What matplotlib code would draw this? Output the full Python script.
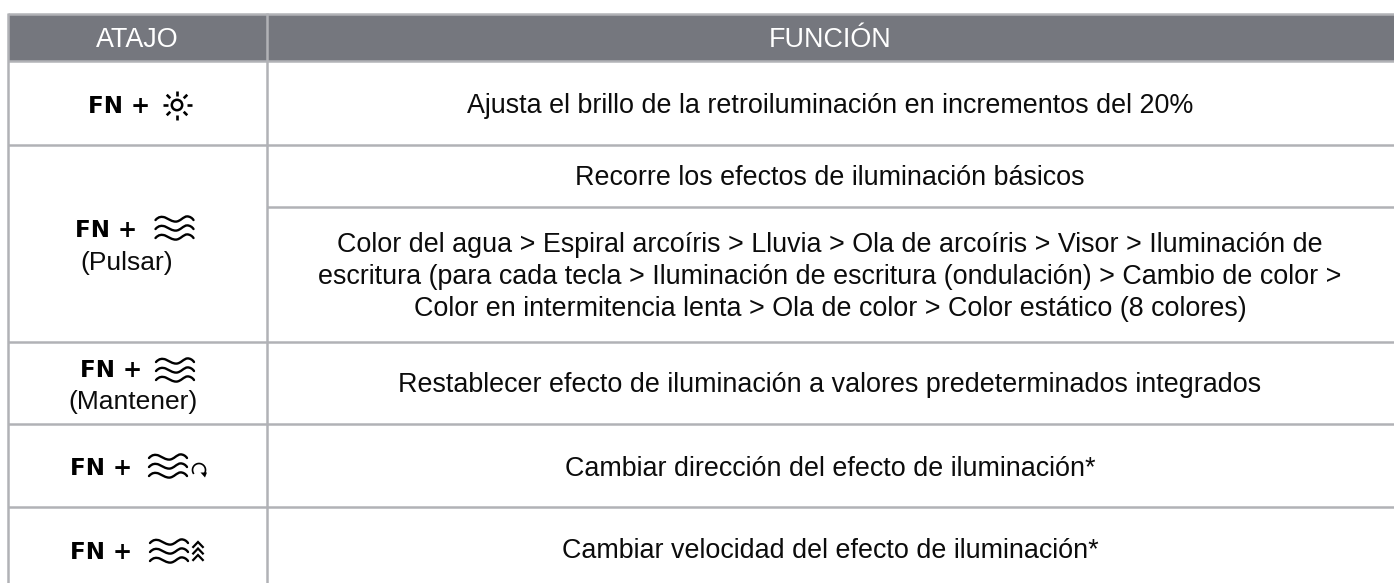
import numpy as np
import matplotlib
matplotlib.use('Agg')
import matplotlib.pyplot as plt
from matplotlib.path import Path
from matplotlib.patches import PathPatch, Circle, Rectangle

# table text
headers = ['ATAJO', 'FUNCIÓN']
shortcut_key = 'FN +'
shortcut_notes = ['', '(Pulsar)', '(Mantener)', '', '']
function_texts = [
    'Ajusta el brillo de la retroiluminación en incrementos del 20%',
    'Recorre los efectos de iluminación básicos',
    'Color del agua > Espiral arcoíris > Lluvia > Ola de arcoíris > Visor > Iluminación de',
    'escritura (para cada tecla > Iluminación de escritura (ondulación) > Cambio de color >',
    'Color en intermitencia lenta > Ola de color > Color estático (8 colores)',
    'Restablecer efecto de iluminación a valores predeterminados integrados',
    'Cambiar dirección del efecto de iluminación*',
    'Cambiar velocidad del efecto de iluminación*',
]

# layout in pixels
W, H = 1394, 583
LINE = '#b1b2b6'
HEAD = '#75777e'
INK = '#0c0c0c'
x_left, x_sep = 7.5, 267
y_top, y_head = 14, 61
row_lines = [145, 342, 424, 507]
inner_line = 207
col1_c, col2_c = 137, 830

plt.rcParams['font.family'] = ['Liberation Sans', 'DejaVu Sans']
fig = plt.figure(figsize=(W / 100, H / 100), dpi=100)
ax = fig.add_axes([0, 0, 1, 1])
ax.set_xlim(0, W)
ax.set_ylim(H, 0)
ax.axis('off')

lw = 1.8

# header band and grid
ax.add_patch(Rectangle((x_left, y_top), W - x_left, y_head - y_top, fc=HEAD, ec='none'))
ax.plot([x_left, W], [y_top, y_top], color=LINE, lw=lw, solid_capstyle='butt')
ax.plot([x_left, W], [y_head, y_head], color=LINE, lw=lw, solid_capstyle='butt')
for y in row_lines:
    ax.plot([x_left, W], [y, y], color=LINE, lw=lw, solid_capstyle='butt')
ax.plot([x_sep, W], [inner_line, inner_line], color=LINE, lw=lw, solid_capstyle='butt')
ax.plot([x_left, x_left], [y_top - 1, H], color=LINE, lw=lw, solid_capstyle='butt')
ax.plot([x_sep, x_sep], [y_top - 1, H], color=LINE, lw=lw, solid_capstyle='butt')

FS = 19.4

for cx, label in zip([col1_c, col2_c], headers):
    ax.text(cx, 47, label, color='white', fontsize=FS, ha='center', va='baseline')

# right column
func_base = [113, 185, 252, 284, 316, 392, 476, 558]
for y, txt in zip(func_base, function_texts):
    ax.text(col2_c, y, txt, color=INK, fontsize=FS, ha='center', va='baseline')


def wave(x0, y, width=38):
    # one wavy stroke of the lighting icon, built from bezier segments
    a = 2.6
    s = width / 6
    verts = [(x0, y + a * 0.4),
             (x0 + s * 0.5, y - a), (x0 + s * 1.0, y - a), (x0 + s * 1.5, y - a * 0.6),
             (x0 + s * 2.2, y + a * 0.2), (x0 + s * 2.6, y + a), (x0 + s * 3.2, y + a),
             (x0 + s * 3.9, y + a), (x0 + s * 4.4, y - a), (x0 + s * 5.0, y - a),
             (x0 + s * 5.4, y - a), (x0 + s * 5.8, y - a * 0.4), (x0 + width, y + a * 0.4)]
    codes = [Path.MOVETO] + [Path.CURVE4] * 12
    ax.add_patch(PathPatch(Path(verts, codes), fc='none', ec='black', lw=1.7, capstyle='round'))


def waves(x0, ys):
    for y in ys:
        wave(x0, y)


def sun(cx, cy):
    ax.add_patch(Circle((cx, cy), 5.2, fc='none', ec='black', lw=1.8))
    for ang in range(0, 360, 45):
        c, s = np.cos(np.radians(ang)), np.sin(np.radians(ang))
        ax.plot([cx + 9.5 * c, cx + 14.5 * c], [cy + 9.5 * s, cy + 14.5 * s],
                color='black', lw=1.9, solid_capstyle='butt')


def loop_arrow(cx, cy):
    th = np.radians(np.linspace(-30, 210, 40))
    ax.plot(cx + 6.5 * np.cos(th), cy - 6.5 * np.sin(th), color='black', lw=1.2)
    ax.add_patch(plt.Polygon([(cx + 1.5, cy + 2.5), (cx + 8, cy + 2.5), (cx + 6, cy + 7.5)],
                             fc='black', ec='none'))


def chevrons(cx, tips):
    for t in tips:
        ax.plot([cx - 4.8, cx, cx + 4.8], [t + 5, t, t + 5], color='black', lw=1.6,
                solid_joinstyle='miter')


# left column
key_x = [88, 75, 80, 70, 70]
key_base = [113, 237, 377, 475, 559]
for x, y in zip(key_x, key_base):
    ax.text(x, y, shortcut_key, family='DejaVu Sans', fontweight='bold', fontsize=16.6,
            color='black', ha='left', va='baseline')

note_x = [0, 126.5, 133.5, 0, 0]
note_base = [0, 270, 409, 0, 0]
for x, y, note in zip(note_x, note_base, shortcut_notes):
    if note:
        ax.text(x, y, note, color=INK, fontsize=19, ha='center', va='baseline')

sun(177, 105)
waves(155.5, [219, 228, 237])
waves(156, [361, 370, 379])
waves(149, [457, 466, 475])
loop_arrow(199, 470)
waves(150, [542, 551, 560])
chevrons(198, [542, 548.5, 555])

fig.savefig('out.png', dpi=100)
